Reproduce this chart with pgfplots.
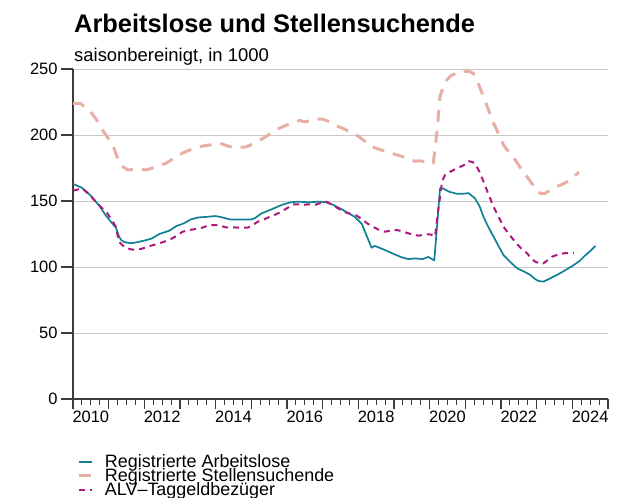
\documentclass[border=0pt]{standalone}
\usepackage{fontspec}
\setmainfont{Liberation Sans}
\usepackage{pgfplots}
\pgfplotsset{compat=1.18}
\definecolor{cteal}{RGB}{16,128,148}
\definecolor{cpink}{RGB}{231,175,166}
\definecolor{cmag}{RGB}{172,24,126}
\definecolor{cgrid}{RGB}{200,200,200}
\definecolor{caxis}{RGB}{60,60,60}
\begin{document}
\begin{tikzpicture}
\useasboundingbox (-73bp,-99bp) rectangle (545bp,399bp);
\node[anchor=base west, inner sep=0pt, font=\fontsize{25.5}{29}\selectfont\bfseries] at (1bp,366bp) {Arbeitslose und Stellensuchende};
\node[anchor=base west, inner sep=0pt, font=\fontsize{18.5}{21}\selectfont] at (1bp,337bp) {saisonbereinigt, in 1000};
\begin{axis}[
  at={(0,0)}, anchor=south west, scale only axis,
  width=535bp, height=330bp,
  xmin=2010, xmax=2025, ymin=0, ymax=250,
  axis x line*=bottom, axis y line*=left,
  axis line style={-, draw=caxis, line width=1.3bp},
  ytick={0,50,100,150,200,250},
  ymajorgrids, grid style={cgrid, line width=0.9bp},
  major tick length=0pt, minor tick length=0pt,
  tick style={draw=none},
  xtick={2010,2011,...,2025},
  xticklabels={2010,,2012,,2014,,2016,,2018,,2020,,2022,,2024,,},
  xticklabel style={anchor=north, xshift=17.8bp, yshift=-9bp},
  ticklabel style={font=\fontsize{16.5}{18}\selectfont},
  yticklabel style={xshift=-12bp},
  /pgf/number format/assume math mode=true,
  legend style={draw=none, fill=none, anchor=north west, at={(0.008,-0.165)},
    legend cell align=left, font=\fontsize{18}{18}\selectfont,
    row sep=-2.5bp, inner sep=0pt, nodes={inner sep=1bp}},
  legend image code/.code={\draw[#1] (0bp,0bp) -- (13bp,0bp); \path[draw=none] (0bp,0bp) -- (25bp,0bp);},
]
\addplot[cteal, line width=1.7bp, line join=round] coordinates {
(2010.00,163) (2010.25,160) (2010.5,154) (2010.75,146) (2010.92,139) (2011.1,133)
(2011.2,130) (2011.29,123) (2011.35,120.5) (2011.43,119) (2011.6,118) (2011.75,118.5)
(2012.0,120) (2012.2,121.5) (2012.42,125) (2012.7,127.5) (2012.9,131) (2013.1,133)
(2013.3,136) (2013.5,137.5) (2013.75,138) (2014.0,138.6) (2014.2,137.5) (2014.4,136)
(2014.7,136) (2015.0,136) (2015.1,137) (2015.28,140.5) (2015.55,143.5) (2015.85,147)
(2016.1,149) (2016.3,149.5) (2016.6,149) (2016.9,149.5) (2017.1,149) (2017.3,147)
(2017.55,143.5) (2017.9,138) (2018.1,132.5) (2018.37,114.6) (2018.46,116)
(2018.7,113.4) (2018.98,110) (2019.2,107.5) (2019.4,106) (2019.6,106.5) (2019.8,106)
(2019.96,107.6) (2020.13,105) (2020.29,159.6) (2020.38,159.5) (2020.55,157)
(2020.76,155.5) (2020.95,155.5) (2021.09,156) (2021.27,152) (2021.4,146) (2021.51,138)
(2021.65,130) (2021.79,123) (2021.95,115) (2022.07,109) (2022.25,104) (2022.45,99)
(2022.65,96.5) (2022.82,94) (2022.95,91) (2023.05,89.4) (2023.19,88.9) (2023.35,91)
(2023.57,94) (2023.8,97.5) (2024.04,101.5) (2024.2,104.5) (2024.32,107.8) (2024.5,112)
(2024.65,116)
};
\addlegendentry{Registrierte Arbeitslose}
\addplot[cpink, line width=3bp, dash pattern=on 12bp off 9bp, line join=round] coordinates {
(2010.0,224) (2010.2,224) (2010.45,219) (2010.65,212) (2010.82,204) (2011.0,197)
(2011.1,193.7) (2011.2,186) (2011.29,180) (2011.4,176) (2011.53,173.5) (2011.7,174)
(2011.9,174) (2012.05,173.5) (2012.23,175) (2012.4,177) (2012.6,178.5) (2012.75,181)
(2012.89,183.6) (2013.05,186) (2013.17,187.5) (2013.35,189.5) (2013.5,190.7)
(2013.7,192) (2013.85,192.5) (2014.1,194) (2014.3,192) (2014.48,190.5) (2014.65,191)
(2014.8,190.7) (2014.95,192) (2015.13,195) (2015.3,197) (2015.42,199) (2015.6,202)
(2015.74,204.5) (2015.9,206.5) (2016.03,208) (2016.2,209.5) (2016.35,211) (2016.5,210)
(2016.68,211) (2016.85,212) (2017.0,212) (2017.2,210) (2017.38,207) (2017.57,205)
(2017.75,202.5) (2017.95,200) (2018.15,196) (2018.32,191.7) (2018.6,189) (2018.85,187)
(2019.07,185) (2019.25,183.5) (2019.45,181.6) (2019.6,180) (2019.68,180.5)
(2019.85,180) (2019.92,179.8) (2020.1,178.5) (2020.2,201) (2020.29,229) (2020.4,238)
(2020.48,241.7) (2020.6,245) (2020.76,247) (2020.9,248.5) (2021.13,248) (2021.23,246.5)
(2021.35,240) (2021.51,229) (2021.65,219) (2021.79,209) (2021.95,200) (2022.07,192.4)
(2022.25,186) (2022.4,181) (2022.55,175) (2022.73,168.4) (2022.9,162) (2023.0,157)
(2023.15,155.5) (2023.24,155.8) (2023.4,158.5) (2023.57,161) (2023.75,163)
(2023.94,166) (2024.05,168.5) (2024.18,172)
};
\addlegendentry{Registrierte Stellensuchende}
\addplot[cmag, line width=2bp, dash pattern=on 6bp off 5bp, line join=round] coordinates {
(2010.0,157.8) (2010.26,159.6) (2010.45,155) (2010.64,149.5) (2010.8,145)
(2010.96,140.7) (2011.1,135) (2011.2,130.5) (2011.29,119) (2011.43,115.4) (2011.6,113.5)
(2011.76,112.9) (2011.95,114) (2012.09,115.4) (2012.3,117) (2012.47,118.4)
(2012.7,120.5) (2012.9,123.5) (2013.07,126.7) (2013.25,128) (2013.45,128.8)
(2013.65,130) (2013.82,131.8) (2014.06,131.8) (2014.29,130) (2014.5,130)
(2014.67,129.8) (2014.9,129.8) (2015.05,132) (2015.18,134.3) (2015.35,136)
(2015.51,138) (2015.7,140) (2015.84,142) (2016.0,144.5) (2016.17,147.5) (2016.3,147.5)
(2016.45,147) (2016.6,147.5) (2016.78,147) (2016.95,148.5) (2017.1,149.5)
(2017.25,147.5) (2017.43,144.5) (2017.57,142) (2017.75,140.5) (2017.95,139)
(2018.13,135.6) (2018.25,133) (2018.41,130.5) (2018.55,128.5) (2018.74,126.7)
(2018.9,127.5) (2019.07,128) (2019.25,127) (2019.4,125.5) (2019.55,124.5)
(2019.68,123.7) (2019.85,124.5) (2020.01,124.8) (2020.15,123) (2020.24,143)
(2020.35,165) (2020.43,169.7) (2020.6,172.5) (2020.76,174.8) (2020.95,177)
(2021.08,180.3) (2021.2,179.5) (2021.27,178.5) (2021.4,172) (2021.51,164.6)
(2021.65,155) (2021.79,145.7) (2021.95,137) (2022.07,130.5) (2022.25,124) (2022.4,119)
(2022.55,114.5) (2022.73,110.4) (2022.85,106.5) (2022.96,104) (2023.1,102.5)
(2023.19,102.8) (2023.3,105) (2023.43,107.8) (2023.6,109.5) (2023.76,110.4)
(2023.9,110.5) (2024.04,110.8)
};
\addlegendentry{ALV\textendash Taggeldbezüger}
\end{axis}
\foreach \i in {0,...,59} {
  \draw[caxis, line width=1.1bp] ({\i*8.916667bp},0bp) -- ({\i*8.916667bp},-5.5bp);
}
\foreach \i in {0,...,15} {
  \draw[caxis, line width=1.4bp] ({\i*35.66667bp},0bp) -- ({\i*35.66667bp},-10bp);
}
\foreach \i in {0,...,5} {
  \draw[caxis, line width=1.4bp] (0bp,{\i*66bp}) -- (-12bp,{\i*66bp});
}
\end{tikzpicture}
\end{document}
